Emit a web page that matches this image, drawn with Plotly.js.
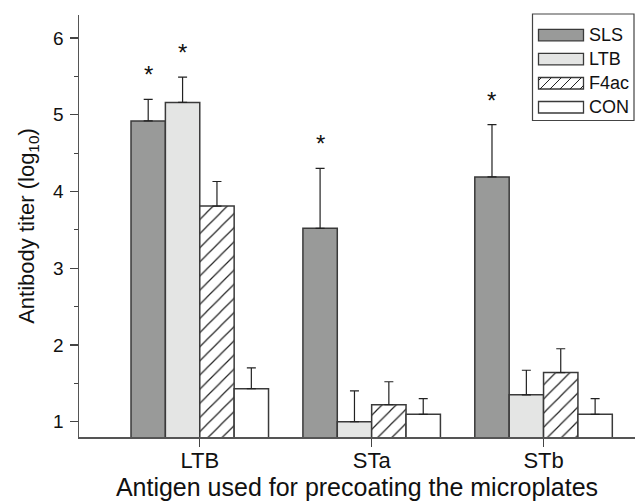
<!DOCTYPE html>
<html>
<head>
<meta charset="utf-8">
<script src="https://cdn.plot.ly/plotly-3.0.1.min.js"></script>
<style>html,body{margin:0;padding:0;background:#fff;}#chart{width:635px;height:501px;}</style>
</head>
<body>
<div id="chart"></div>
<script>
// ---- data ----
const categories = ['LTB', 'STa', 'STb'];
const seriesNames = ['SLS', 'LTB', 'F4ac', 'CON'];
const slsValues  = [4.92, 3.52, 4.19];
const slsErrors  = [0.28, 0.78, 0.68];
const ltbValues  = [5.16, 1.00, 1.35];
const ltbErrors  = [0.33, 0.40, 0.32];
const f4acValues = [3.81, 1.22, 1.64];
const f4acErrors = [0.32, 0.30, 0.31];
const conValues  = [1.43, 1.095, 1.095];
const conErrors  = [0.27, 0.205, 0.205];
const slsStars   = [true, true, true];
const ltbStars   = [true, false, false];
const f4acStars  = [false, false, false];
const conStars   = [false, false, false];
const yTickVals  = [1, 2, 3, 4, 5, 6];

// ---- styles ----
const W = 635, H = 501, ML = 79, MR = 0, MT = 15, MB = 64;
const PW = W - ML - MR, PH = H - MT - MB;
const FONT = 'Arial, "Liberation Sans", sans-serif';
const edge = '#3a3a3a';
const fills = ['#999a99', '#e4e5e4', '#ffffff', '#ffffff'];
const values = [slsValues, ltbValues, f4acValues, conValues];
const errors = [slsErrors, ltbErrors, f4acErrors, conErrors];
const stars = [slsStars, ltbStars, f4acStars, conStars];
const xRange = [-0.7026, 2.532];
const yRange = [0.80, 6.30];
const bargap = 0.2;

const traces = seriesNames.map((name, i) => {
  const t = {
    type: 'bar', name: name, x: categories, y: values[i],
    marker: { color: fills[i], line: { color: edge, width: 1.5 } },
    error_y: { type: 'data', symmetric: false, array: errors[i],
               arrayminus: errors[i].map(() => 0),
               color: '#222', thickness: 1.2, width: 4.5 },
    showlegend: false, hoverinfo: 'skip'
  };
  if (name === 'F4ac') {
    t.marker.pattern = { shape: '/', size: 10, solidity: 0.12, fgcolor: '#222', bgcolor: '#ffffff', fillmode: 'replace' };
  }
  return t;
});

// star annotations, placed through the data axes
const catWidthPx = PW / (xRange[1] - xRange[0]);
const barWidthPx = catWidthPx * (1 - bargap) / seriesNames.length;
const annotations = [];
seriesNames.forEach((name, i) => {
  categories.forEach((c, j) => {
    if (stars[i][j]) {
      annotations.push({
        x: c, y: values[i][j] + errors[i][j], xref: 'x', yref: 'y',
        xshift: (i - (seriesNames.length - 1) / 2) * barWidthPx,
        yanchor: 'bottom', yshift: 9, showarrow: false, text: '*',
        font: { family: FONT, size: 24, color: '#111' }
      });
    }
  });
});

// custom legend (paper coordinates converted from pixels)
const px = v => (v - ML) / PW;
const py = v => (H - MB - v) / PH;
const shapes = [];
shapes.push({ type: 'rect', xref: 'paper', yref: 'paper', x0: px(532.5), x1: px(634), y0: py(14), y1: py(120.5),
  line: { color: '#444', width: 1.2 }, fillcolor: 'rgba(0,0,0,0)', layer: 'above' });
const swX0 = 538.5, swX1 = 583.5, swH = 11.5;
const rowTops = [29.3, 53.3, 77.5, 101.5];
seriesNames.forEach((name, i) => {
  const top = rowTops[i], bot = top + swH;
  shapes.push({ type: 'rect', xref: 'paper', yref: 'paper', x0: px(swX0), x1: px(swX1), y0: py(bot), y1: py(top),
    line: { color: edge, width: 1.3 }, fillcolor: fills[i], layer: 'above' });
  if (name === 'F4ac') {
    const sp = 10;
    for (let c = swX0 - swH + 3; c < swX1; c += sp) {
      let xa = c, ya = bot, xb = c + swH, yb = top;
      if (xa < swX0) { ya = bot - (swX0 - xa); xa = swX0; }
      if (xb > swX1) { yb = top + (xb - swX1); xb = swX1; }
      if (xb - xa < 1) continue;
      shapes.push({ type: 'line', xref: 'paper', yref: 'paper', x0: px(xa), y0: py(ya), x1: px(xb), y1: py(yb),
        line: { color: '#222', width: 1 }, layer: 'above' });
    }
  }
  annotations.push({ xref: 'paper', yref: 'paper', x: px(587), y: py(top + swH / 2), xanchor: 'left', yanchor: 'middle',
    text: name, showarrow: false, font: { family: FONT, size: 18, color: '#111' } });
});

const layout = {
  width: W, height: H,
  margin: { l: ML, r: MR, t: MT, b: MB, pad: 0 },
  paper_bgcolor: '#fff', plot_bgcolor: '#fff',
  barmode: 'group', bargap: bargap, bargroupgap: 0,
  showlegend: false,
  font: { family: FONT, color: '#111' },
  xaxis: {
    type: 'category', range: xRange, showgrid: false, zeroline: false,
    showline: true, linecolor: '#555', linewidth: 1.5,
    ticks: 'outside', ticklen: 8, tickwidth: 1.2, tickcolor: '#444',
    tickfont: { family: FONT, size: 22, color: '#111' },
    ticklabelstandoff: -5,
    title: { text: 'Antigen used for precoating the microplates', font: { family: FONT, size: 25, color: '#111' }, standoff: 2 },
    automargin: false, fixedrange: true
  },
  yaxis: {
    range: yRange, showgrid: false, zeroline: false,
    showline: true, linecolor: '#555', linewidth: 1.5,
    tickvals: yTickVals, ticktext: yTickVals.map(String),
    ticks: 'outside', ticklen: 8, tickwidth: 1.2, tickcolor: '#444',
    minor: { tickvals: [1.5, 2.5, 3.5, 4.5, 5.5], ticks: 'outside', ticklen: 4, tickwidth: 1.2, tickcolor: '#444' },
    tickfont: { family: FONT, size: 19, color: '#111' },
    ticklabelstandoff: 2,
    title: { text: 'Antibody titer (log<sub>10</sub>)', font: { family: FONT, size: 22, color: '#111' }, standoff: 12 },
    automargin: false, fixedrange: true
  },
  shapes: shapes,
  annotations: annotations
};

Plotly.newPlot('chart', traces, layout, { staticPlot: true, displayModeBar: false });
</script>
</body>
</html>
